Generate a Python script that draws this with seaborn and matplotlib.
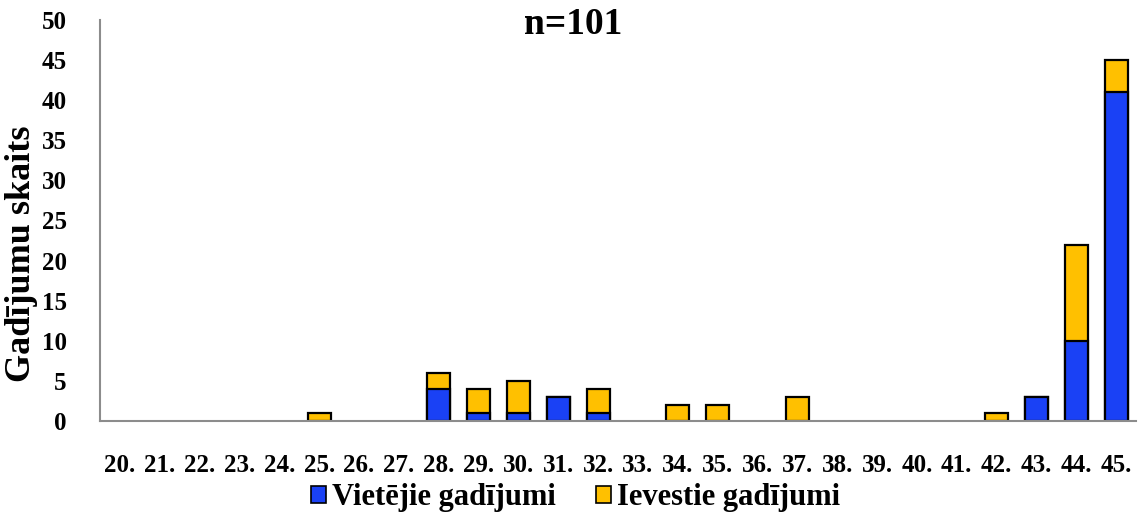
import matplotlib
matplotlib.use("Agg")
import matplotlib.pyplot as plt
import seaborn as sns
import pandas as pd
from matplotlib.patches import Patch

weeks = [f"{w}." for w in range(20, 46)]
local_cases = [0, 0, 0, 0, 0, 0, 0, 0, 4, 1, 1, 3, 1, 0, 0, 0, 0, 0, 0, 0, 0, 0, 0, 3, 10, 41]
imported_cases = [0, 0, 0, 0, 0, 1, 0, 0, 2, 3, 4, 0, 3, 0, 2, 2, 0, 3, 0, 0, 0, 0, 1, 0, 12, 4]
series_names = ["Vietējie gadījumi", "Ievestie gadījumi"]
title_text = "n=101"
y_label = "Gadījumu skaits"

blue = "#1A41F5"
gold = "#FFC000"

sns.set_style("white")
plt.rcParams["font.family"] = ["Liberation Serif", "DejaVu Serif"]
plt.rcParams["font.weight"] = "bold"
for key in ("text.color", "axes.labelcolor", "xtick.color", "ytick.color"):
    plt.rcParams[key] = "black"

df = pd.DataFrame({"week": weeks, "local": local_cases, "imported": imported_cases})
df["total"] = df["local"] + df["imported"]

fig = plt.figure(figsize=(11.4, 5.22), dpi=100)
ax = fig.add_axes([0.0877, 0.1935, 0.9088, 0.7682])

# totals in gold underneath, local cases in blue on top -> stacked look
tot = df[df["total"] > 0]
loc = df[df["local"] > 0]
sns.barplot(data=tot, x="week", y="total", order=weeks, color=gold, saturation=1,
            width=0.58, edgecolor="black", linewidth=1.6, ax=ax)
sns.barplot(data=loc, x="week", y="local", order=weeks, color=blue, saturation=1,
            width=0.58, edgecolor="black", linewidth=1.6, ax=ax)

ax.set_xlim(-0.5, len(weeks) - 0.5)
ax.set_ylim(0, 50)
ax.set_yticks(range(0, 51, 5))
ax.set_xlabel("")
ax.set_ylabel(y_label, fontsize=26, fontweight="bold", va="center")
ax.yaxis.set_label_coords(22 / 1140, 1 - 254 / 522, transform=fig.transFigure)
ax.tick_params(axis="y", labelsize=18, length=0, pad=24)
ax.tick_params(axis="x", labelsize=18, length=0, pad=24)
for lbl in ax.get_xticklabels() + ax.get_yticklabels():
    lbl.set_fontweight("bold")

for side in ("top", "right"):
    ax.spines[side].set_visible(False)
for side in ("left", "bottom"):
    ax.spines[side].set_color("#8c8c8c")
    ax.spines[side].set_linewidth(1.5)
ax.spines["bottom"].set_zorder(5)

fig.text(0.503, 1 - 25 / 522, title_text, ha="center", va="center",
         fontsize=27, fontweight="bold")

handles = [Patch(facecolor=blue, edgecolor="black", linewidth=1.2),
           Patch(facecolor=gold, edgecolor="black", linewidth=1.2)]
fig.legend(handles, series_names, loc="center", bbox_to_anchor=(0.505, 1 - 498 / 522),
           ncol=2, frameon=False, handlelength=0.5, handleheight=0.5,
           handletextpad=0.2, columnspacing=1.3, borderpad=0,
           prop={"family": ["Liberation Serif"], "weight": "bold", "size": 22})

fig.savefig("out.png", dpi=100)
